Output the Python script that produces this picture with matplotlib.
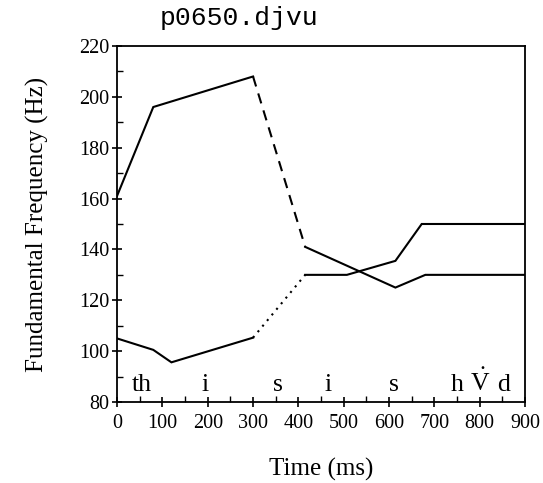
import matplotlib
matplotlib.use("Agg")
import matplotlib.pyplot as plt
from matplotlib.ticker import MultipleLocator

plt.rcParams["mathtext.fontset"] = "custom"
plt.rcParams["mathtext.rm"] = "Liberation Serif"
plt.rcParams["mathtext.it"] = "Liberation Serif:italic"

# Upper contour (then falls)
a_solid1_t = [0, 80, 300]
a_solid1_f = [161, 196, 208]
a_dash_t = [300, 415]
a_dash_f = [208, 141]
a_solid2_t = [415, 614, 680, 900]
a_solid2_f = [141, 125, 130, 130]

# Lower contour (then rises)
b_solid1_t = [0, 80, 120, 300]
b_solid1_f = [105, 100.5, 95.6, 105.3]
b_dot_t = [300, 415]
b_dot_f = [105.3, 130]
b_solid2_t = [415, 507, 614, 672, 900]
b_solid2_f = [130, 130, 135.5, 150, 150]

phonemes = ["th", "i", "s", "i", "s", "h", r"$\mathrm{\dot{V}}$", "d"]
phoneme_t = [55, 194, 356, 466, 610, 750, 800, 852]
phoneme_f = [84.3] * len(phonemes)

xticks = [0, 100, 200, 300, 400, 500, 600, 700, 800, 900]
yticks = [80, 100, 120, 140, 160, 180, 200, 220]

fig = plt.figure(figsize=(5.43, 4.83), dpi=100)
ax = fig.add_axes([0.2155, 0.1677, 0.967 - 0.2155, 0.9048 - 0.1677])

lw = 1.5
ax.plot(a_solid1_t, a_solid1_f, color="black", lw=lw, solid_joinstyle="miter")
ax.plot(a_dash_t, a_dash_f, color="black", lw=lw, linestyle=(0, (5, 3.5)))
ax.plot(a_solid2_t, a_solid2_f, color="black", lw=lw, solid_joinstyle="miter")
ax.plot(b_solid1_t, b_solid1_f, color="black", lw=lw, solid_joinstyle="miter")
ax.plot(b_dot_t, b_dot_f, color="black", lw=lw, linestyle=(0, (1, 2.5)))
ax.plot(b_solid2_t, b_solid2_f, color="black", lw=lw, solid_joinstyle="miter")

serif = ["Liberation Serif", "DejaVu Serif"]
for lab, t, f in zip(phonemes, phoneme_t, phoneme_f):
    ax.text(t, f, lab, ha="center", va="baseline", fontsize=18.5, family=serif)

ax.set_xlim(0, 900)
ax.set_ylim(80, 220)
ax.set_xticks(xticks)
ax.set_yticks(yticks)
ax.xaxis.set_minor_locator(MultipleLocator(50))
ax.yaxis.set_minor_locator(MultipleLocator(10))
ax.tick_params(which="major", direction="inout", length=7, width=1.2,
               labelsize=14.5, top=False, right=False)
ax.tick_params(axis="x", which="major", pad=5)
ax.tick_params(axis="y", which="major", pad=2)
ax.tick_params(which="minor", direction="in", length=4, width=1.0,
               top=False, right=False)
for lab in ax.get_xticklabels() + ax.get_yticklabels():
    lab.set_family("Liberation Serif")
for s in ax.spines.values():
    s.set_linewidth(1.3)

ax.set_xlabel("Time (ms)", fontsize=18, family="Liberation Serif", labelpad=18)
ax.set_ylabel("Fundamental Frequency (Hz)", fontsize=18, family="Liberation Serif", labelpad=22)

fig.text(0.2947, 0.963, "p0650.djvu", fontsize=19, family="Liberation Mono",
         ha="left", va="center")

fig.savefig("out.png", dpi=100)
